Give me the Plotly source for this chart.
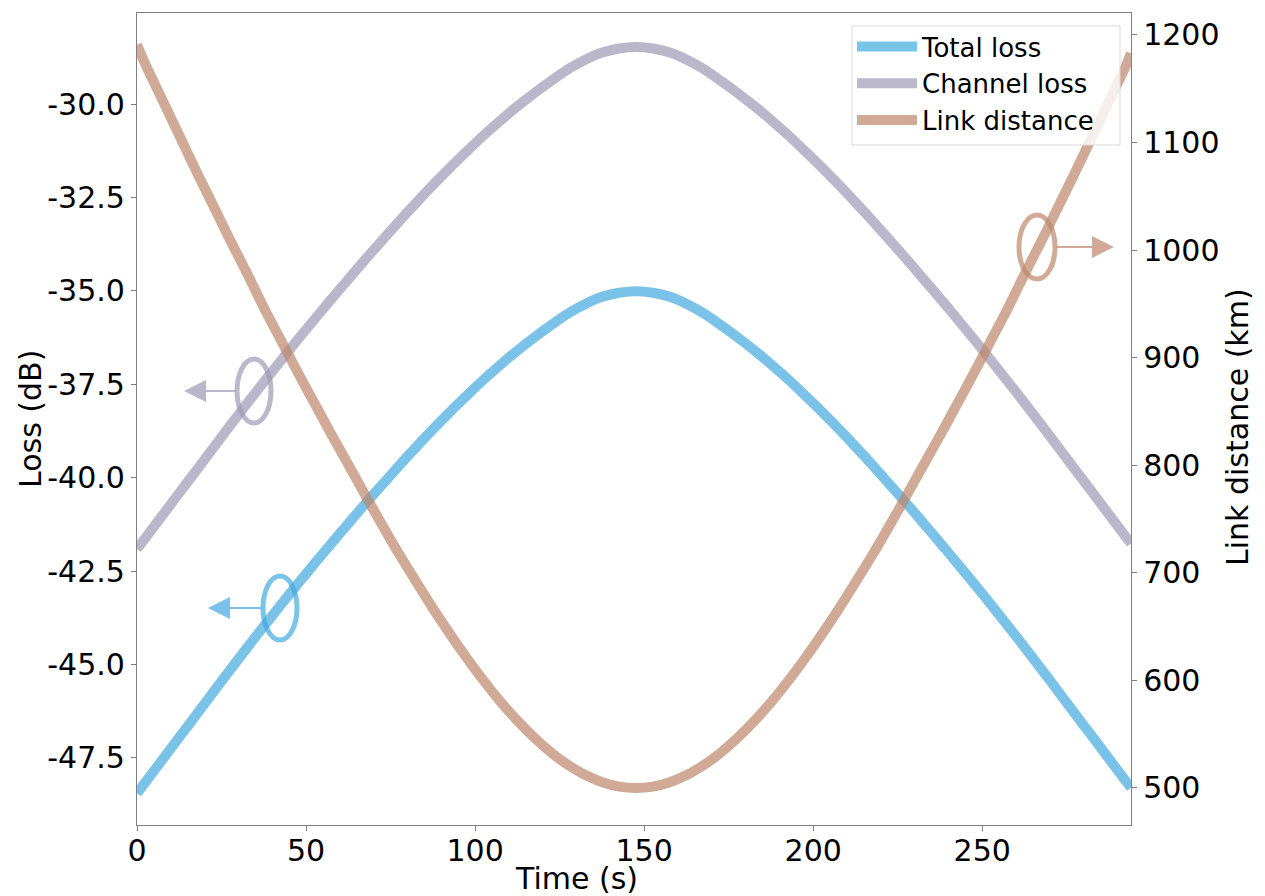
import plotly.graph_objects as go

# ---------------- data ----------------
time_s = [0, 2.6, 7.6, 12.6, 17.6, 22.6, 27.6, 32.6, 37.6, 42.6, 47.6, 52.6, 57.6, 62.6,
          67.6, 72.6, 77.6, 82.6, 87.6, 92.6, 97.6, 102.6, 107.6, 112.6, 117.6, 122.6,
          127.6, 132.6, 137.6, 142.6, 147.6, 152.6, 157.6, 162.6, 167.6, 172.6, 177.6,
          182.6, 187.6, 192.6, 197.6, 202.6, 207.6, 212.6, 217.6, 222.6, 227.6, 232.6,
          237.6, 242.6, 247.6, 252.6, 257.6, 262.6, 267.6, 272.6, 277.6, 282.6, 287.6,
          292.6, 294]

channel_loss_db = [-41.91, -41.60, -41.00, -40.40, -39.80, -39.20, -38.60, -38.01, -37.43,
                   -36.86, -36.30, -35.75, -35.21, -34.68, -34.15, -33.64, -33.13, -32.64,
                   -32.16, -31.70, -31.26, -30.83, -30.43, -30.05, -29.70, -29.37, -29.06,
                   -28.81, -28.62, -28.51, -28.47, -28.51, -28.62, -28.81, -29.06, -29.37,
                   -29.70, -30.05, -30.43, -30.83, -31.26, -31.70, -32.16, -32.64, -33.13,
                   -33.64, -34.15, -34.68, -35.21, -35.75, -36.30, -36.86, -37.43, -38.01,
                   -38.60, -39.20, -39.80, -40.40, -41.00, -41.60, -41.76]

total_loss_db = [-48.45, -48.14, -47.54, -46.94, -46.34, -45.74, -45.14, -44.55, -43.97,
                 -43.40, -42.84, -42.29, -41.75, -41.22, -40.69, -40.18, -39.67, -39.18,
                 -38.70, -38.24, -37.80, -37.37, -36.97, -36.59, -36.24, -35.91, -35.60,
                 -35.35, -35.16, -35.05, -35.01, -35.05, -35.16, -35.35, -35.60, -35.91,
                 -36.24, -36.59, -36.97, -37.37, -37.80, -38.24, -38.70, -39.18, -39.67,
                 -40.18, -40.69, -41.22, -41.75, -42.29, -42.84, -43.40, -43.97, -44.55,
                 -45.14, -45.74, -46.34, -46.94, -47.54, -48.14, -48.30]

link_distance_km = [1191.0, 1172.0, 1139.0, 1106.0, 1073.0, 1041.0, 1009.0, 978.0, 946.0,
                    916.0, 886.0, 857.0, 828.0, 800.0, 771.8, 744.0, 717.0, 691.6, 666.7,
                    643.0, 620.5, 599.5, 580.0, 562.3, 546.5, 532.7, 521.2, 512.0, 505.4,
                    501.3, 500.0, 501.3, 505.4, 512.0, 521.2, 532.7, 546.5, 562.3, 580.0,
                    599.5, 620.5, 643.0, 666.7, 691.6, 717.0, 744.0, 771.8, 800.0, 828.0,
                    857.0, 886.0, 916.0, 946.0, 978.0, 1009.0, 1041.0, 1073.0, 1106.0,
                    1139.0, 1172.0, 1183.0]

series_names = ["Total loss", "Channel loss", "Link distance"]

x_ticks = [0, 50, 100, 150, 200, 250]
loss_ticks = [-47.5, -45.0, -42.5, -40.0, -37.5, -35.0, -32.5, -30.0]
loss_tick_text = ["-47.5", "-45.0", "-42.5", "-40.0", "-37.5", "-35.0", "-32.5", "-30.0"]
dist_ticks = [500, 600, 700, 800, 900, 1000, 1100, 1200]

# ---------------- style ----------------
C_TOTAL = "rgb(66,169,223)"
C_CHAN = "rgb(158,154,181)"
C_LINK = "rgb(189,135,106)"
FONT = "DejaVu Sans"
AX_COL = "#7f7f7f"
TICK_SIZE = 30
TITLE_SIZE = 30

fig = go.Figure()
colors = [C_TOTAL, C_CHAN, C_LINK]
ys = [total_loss_db, channel_loss_db, link_distance_km]
axes = ["y", "y", "y2"]
for name, col, yv, ax in zip(series_names, colors, ys, axes):
    fig.add_trace(go.Scatter(x=time_s, y=yv, name=name, mode="lines", legendgroup=name,
                             line=dict(color=col, width=10, shape="spline", smoothing=0.8),
                             opacity=0.7, yaxis=ax))

axis_common = dict(showgrid=False, zeroline=False, showline=True, linecolor=AX_COL,
                   linewidth=1.3, ticks="outside", ticklen=5, tickwidth=1.3, tickcolor=AX_COL,
                   tickfont=dict(family=FONT, size=TICK_SIZE, color="black"))


def px_x(p):
    return (p - 137) / 994.0


def px_y(p):
    return (825 - p) / 812.0


fig.update_layout(
    width=1257, height=888,
    margin=dict(l=129, r=134, t=5, b=71),
    paper_bgcolor="white", plot_bgcolor="white",
    font=dict(family=FONT, color="black"),
    xaxis=dict(range=[0, 294], tickvals=x_ticks, mirror=True, ticklabelstandoff=-6,
               **axis_common),
    yaxis=dict(range=[-49.30, -27.56], tickvals=loss_ticks, ticktext=loss_tick_text,
               mirror=False, **axis_common),
    yaxis2=dict(range=[465.6, 1220.4], tickvals=dist_ticks, overlaying="y", side="right",
                **axis_common),
    legend=dict(x=px_x(852), y=px_y(23), xanchor="left", yanchor="top",
                bgcolor="rgba(0,0,0,0)", borderwidth=0,
                font=dict(family=FONT, size=26, color="black"),
                itemwidth=60, tracegroupgap=0),
    showlegend=True,
)

annotations = [
    dict(text="Loss (dB)", x=px_x(30), y=px_y(419), xref="paper", yref="paper",
         xanchor="center", yanchor="middle",
         showarrow=False, textangle=-90, font=dict(family=FONT, size=TITLE_SIZE)),
    dict(text="Link distance (km)", x=px_x(1237), y=px_y(427), xref="paper", yref="paper",
         xanchor="center", yanchor="middle",
         showarrow=False, textangle=-90, font=dict(family=FONT, size=TITLE_SIZE)),
    dict(text="Time (s)", x=px_x(576), y=px_y(878), xref="paper", yref="paper",
         xanchor="center", yanchor="middle",
         showarrow=False, font=dict(family=FONT, size=TITLE_SIZE)),
]

# legend frame (drawn as a shape so its size matches the reference)
shapes = [dict(type="rect", xref="paper", yref="paper", layer="above",
               x0=px_x(852), x1=px_x(1120), y0=px_y(145), y1=px_y(26),
               fillcolor="rgba(255,255,255,0.8)", line=dict(color="#d9d9d9", width=1))]

# ellipse markers with arrows pointing to their axes
markers = [
    # (cx, cy, w, h, color, arrow head x, arrow tail x)
    (280, 608, 34, 64, "rgba(66,169,223,0.7)", 208, 263),
    (254, 391, 34, 64, "rgba(158,154,181,0.7)", 184, 237),
    (1037, 247, 36, 64, "rgba(189,135,106,0.7)", 1114, 1055),
]
for cx, cy, w, h, col, hx, tx in markers:
    shapes.append(dict(type="circle", xref="paper", yref="paper",
                       x0=px_x(cx - w / 2), x1=px_x(cx + w / 2),
                       y0=px_y(cy + h / 2), y1=px_y(cy - h / 2),
                       line=dict(color=col, width=5)))
    annotations.append(dict(text="", x=px_x(hx), y=px_y(cy), xref="paper", yref="paper",
                            ax=tx - hx, ay=0, showarrow=True, arrowhead=2, arrowsize=2.2,
                            arrowwidth=2, arrowcolor=col))

fig.update_layout(shapes=shapes, annotations=annotations)

fig.write_html("out.html")
